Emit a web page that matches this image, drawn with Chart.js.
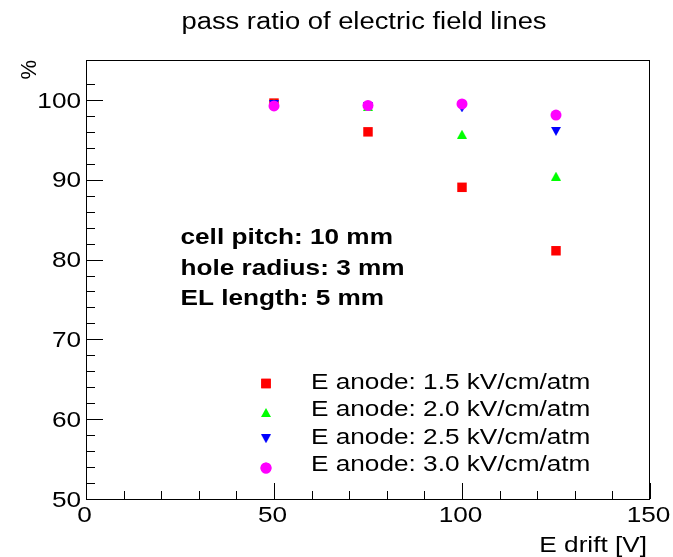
<!DOCTYPE html>
<html>
<head>
<meta charset="utf-8">
<title>pass ratio of electric field lines</title>
<script src="https://cdn.jsdelivr.net/npm/chart.js@4.4.1/dist/chart.umd.min.js"></script>
<style>
    html, body { margin: 0; padding: 0; background: #ffffff; }
    #chart { display: block; }
</style>
</head>
<body>
<canvas id="chart" width="673" height="557"></canvas>
<script>
// Data
const driftField = [50, 75, 100, 125];
const ratio15 = [99.6, 96.0, 89.05, 81.1];
const ratio20 = [99.5, 99.2, 95.7, 90.45];
const ratio25 = [99.4, 99.15, 99.0, 96.05];
const ratio30 = [99.25, 99.3, 99.5, 98.1];
const seriesLabels = [
    "E anode: 1.5 kV/cm/atm",
    "E anode: 2.0 kV/cm/atm",
    "E anode: 2.5 kV/cm/atm",
    "E anode: 3.0 kV/cm/atm",
];
const xTickLabels = [0, 50, 100, 150];
const yTickLabels = [50, 60, 70, 80, 90, 100];
const infoLines = ["cell pitch: 10 mm", "hole radius: 3 mm", "EL length: 5 mm"];

const FONT = "'Liberation Sans', Arial, Helvetica, sans-serif";
const STRETCH = 1.19; // text in the picture is a bit wider than the font

// Small triangle markers (ROOT style, centred on their box)
function makeTriangle(color, up) {
    const c = document.createElement("canvas");
    c.width = 10;
    c.height = 9;
    const g = c.getContext("2d");
    g.fillStyle = color;
    g.beginPath();
    if (up) {
        g.moveTo(0, 9); g.lineTo(10, 9); g.lineTo(5, 0);
    } else {
        g.moveTo(0, 0); g.lineTo(10, 0); g.lineTo(5, 9);
    }
    g.closePath();
    g.fill();
    return c;
}
const triUp = makeTriangle("#00ff00", true);
const triDown = makeTriangle("#0000ff", false);

function toPoints(values) {
    return values.map((v, i) => ({ x: driftField[i], y: v }));
}

// Draw text stretched horizontally like in the reference
function drawText(ctx, text, x, y, font, align) {
    ctx.save();
    ctx.translate(x, y);
    ctx.scale(STRETCH, 1);
    ctx.font = font;
    ctx.fillStyle = "#000000";
    ctx.textAlign = align;
    ctx.textBaseline = "alphabetic";
    ctx.fillText(text, 0, 0);
    ctx.restore();
}

const rootFrame = {
    id: "rootFrame",
    afterDraw(chart) {
        const ctx = chart.ctx;
        const area = chart.chartArea;
        const xs = chart.scales.x;
        const ys = chart.scales.y;

        // frame
        ctx.save();
        ctx.strokeStyle = "#000000";
        ctx.lineWidth = 1;
        ctx.strokeRect(area.left + 0.5, area.top + 0.5, area.right - area.left - 1, area.bottom - area.top);

        // ticks (inside the frame)
        ctx.beginPath();
        ys.ticks.forEach((t) => {
            if (t.value % 2 !== 0) return;
            const y = Math.round(ys.getPixelForValue(t.value)) + 0.5;
            const len = t.value % 10 === 0 ? 17 : 9;
            ctx.moveTo(area.left, y);
            ctx.lineTo(area.left + len, y);
        });
        xs.ticks.forEach((t) => {
            const x = Math.round(xs.getPixelForValue(t.value)) + 0.5;
            const len = t.value % 50 === 0 ? 16 : 8;
            ctx.moveTo(x, area.bottom);
            ctx.lineTo(x, area.bottom - len);
        });
        ctx.stroke();
        ctx.restore();

        const labelFont = "22px " + FONT;
        yTickLabels.forEach((v) => {
            drawText(ctx, String(v), area.left - 5, ys.getPixelForValue(v) + 7.7, labelFont, "right");
        });
        xTickLabels.forEach((v) => {
            drawText(ctx, String(v), xs.getPixelForValue(v) - 1.5, area.bottom + 22.5, labelFont, "center");
        });

        // axis titles
        drawText(ctx, "E drift [V]", area.right - 3, 552, labelFont, "right");
        ctx.save();
        ctx.translate(36, area.top);
        ctx.rotate(-Math.PI / 2);
        ctx.font = "22px " + FONT;
        ctx.fillStyle = "#000000";
        ctx.textAlign = "right";
        ctx.fillText("%", 0, 0);
        ctx.restore();

        // title
        drawText(ctx, "pass ratio of electric field lines", 364, 29, "23px " + FONT, "center");

        // info box
        infoLines.forEach((line, i) => {
            drawText(ctx, line, 180.5, 244 + i * 30.5, "bold 22px " + FONT, "left");
        });

        // legend
        const markerY = [383.5, 412.5, 438.7, 468];
        chart.data.datasets.forEach((ds, i) => {
            const style = ds.pointStyle;
            ctx.save();
            ctx.fillStyle = ds.backgroundColor;
            if (style instanceof HTMLCanvasElement) {
                ctx.drawImage(style, 266 - style.width / 2, markerY[i] - style.height / 2);
            } else {
                Chart.helpers.drawPoint(ctx, { pointStyle: style, radius: ds.pointRadius, borderWidth: 0 }, 266, markerY[i]);
                ctx.fill();
            }
            ctx.restore();
            drawText(ctx, seriesLabels[i], 311, 389.3 + i * 27.1, "22px " + FONT, "left");
        });
    },
};

const ctx = document.getElementById("chart").getContext("2d");

const data = {
    datasets: [
        {
            label: seriesLabels[0],
            data: toPoints(ratio15),
            pointStyle: "rect",
            pointRadius: 6.7,
            backgroundColor: "#ff0000",
            borderWidth: 0,
            order: 3,
        },
        {
            label: seriesLabels[1],
            data: toPoints(ratio20),
            pointStyle: triUp,
            pointRadius: 5,
            backgroundColor: "#00ff00",
            borderWidth: 0,
            order: 2,
        },
        {
            label: seriesLabels[2],
            data: toPoints(ratio25),
            pointStyle: triDown,
            pointRadius: 5,
            backgroundColor: "#0000ff",
            borderWidth: 0,
            order: 1,
        },
        {
            label: seriesLabels[3],
            data: toPoints(ratio30),
            pointStyle: "circle",
            pointRadius: 5.5,
            backgroundColor: "#ff00ff",
            borderWidth: 0,
            order: 0,
        },
    ],
};

const config = {
    type: "scatter",
    data: data,
    options: {
        responsive: false,
        animation: false,
        events: [],
        layout: { padding: { top: 60, right: 23, bottom: 0, left: 0 } },
        plugins: {
            legend: { display: false },
            title: { display: false },
            tooltip: { enabled: false },
        },
        scales: {
            x: {
                type: "linear",
                min: 0,
                max: 150,
                ticks: { stepSize: 10, display: false },
                grid: { display: false },
                border: { display: false },
                afterFit: (scale) => { scale.height = 58; },
            },
            y: {
                type: "linear",
                min: 50,
                max: 105,
                ticks: { stepSize: 2, display: false },
                grid: { display: false },
                border: { display: false },
                afterFit: (scale) => { scale.width = 86; },
            },
        },
    },
    plugins: [rootFrame],
};

new Chart(ctx, config);
</script>
</body>
</html>
